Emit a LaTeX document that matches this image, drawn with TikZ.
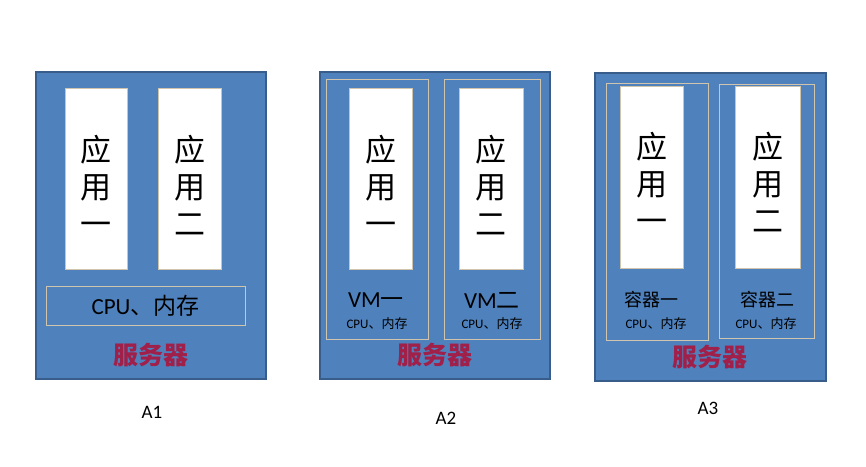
\documentclass[tikz,border=0pt]{standalone}
\usepackage{fontspec}
\setmainfont{Carlito}
\newfontfamily\cjk{Noto Sans CJK SC}
\definecolor{panel}{HTML}{4F81BD}
\definecolor{pedge}{HTML}{385D8A}
\definecolor{tan}{HTML}{D0C4AC}
\definecolor{srv}{HTML}{A0204A}
\begin{document}
\begin{tikzpicture}[x=1pt,y=-1pt,
  outer/.style={draw=pedge,line width=2pt,fill=panel},
  inner/.style={draw=tan,line width=0.7pt},
  app/.style={draw=tan,fill=white,line width=0.6pt},
  apptxt/.style={font=\cjk\fontsize{31}{37}\selectfont,align=center},
  srvtxt/.style={font=\cjk\bfseries\fontsize{25}{28}\selectfont,text=srv},
  big/.style={font=\fontsize{23}{26}\selectfont},
  small/.style={font=\fontsize{13}{15}\selectfont},
  lab/.style={font=\fontsize{19}{22}\selectfont}]
\useasboundingbox (0,0) rectangle (866,466);
% A1
\draw[outer] (36,72) rectangle (266,379);
\draw[app] (65,88) rectangle (127,269);
\draw[app] (158,88) rectangle (221,269);
\node[apptxt] (a1a) at (96,185) {应\\用\\一};
\node[apptxt] (a1b) at (189.5,185) {应\\用\\二};
\draw[inner] (46,286) rectangle (245,325);
\node[big] (a1c) at (145.5,306) {CPU{\cjk 、内存}};
\node[srvtxt] (s1) at (151,355) {服务器};
\node[lab] (l1) at (152,412) {A1};
% A2
\draw[outer] (320,72) rectangle (550,379);
\draw[inner] (326,79) rectangle (428,339);
\draw[inner] (444,79) rectangle (540,339);
\draw[app] (349,88) rectangle (412,269);
\draw[app] (459,88) rectangle (523,269);
\node[apptxt] (a2a) at (380.5,185) {应\\用\\一};
\node[apptxt] (a2b) at (491,185) {应\\用\\二};
\node[big] (v1) at (376,300) {VM{\cjk 一}};
\node[small] (c1) at (377,324) {CPU{\cjk 、内存}};
\node[big] (v2) at (492,300) {VM{\cjk 二}};
\node[small] (c2) at (492,324) {CPU{\cjk 、内存}};
\node[srvtxt] (s2) at (435,355) {服务器};
\node[lab] (l2) at (446,418) {A2};
% A3
\draw[outer] (595,73) rectangle (826,381);
\draw[inner] (606,83) rectangle (708,340);
\draw[inner] (719,84) rectangle (814,338);
\draw[app] (620,86) rectangle (683,268);
\draw[app] (735,86) rectangle (800,268);
\node[apptxt] (a3a) at (651.5,182) {应\\用\\一};
\node[apptxt] (a3b) at (767.5,182) {应\\用\\二};
\node[font=\cjk\fontsize{18}{21}\selectfont] (k1) at (651,300) {容器一};
\node[small] (c3) at (656,324) {CPU{\cjk 、内存}};
\node[font=\cjk\fontsize{18}{21}\selectfont] (k2) at (767,300) {容器二};
\node[small] (c4) at (766,324) {CPU{\cjk 、内存}};
\node[srvtxt] (s3) at (710,357) {服务器};
\node[lab] (l3) at (708,408) {A3};
\end{tikzpicture}
\end{document}
